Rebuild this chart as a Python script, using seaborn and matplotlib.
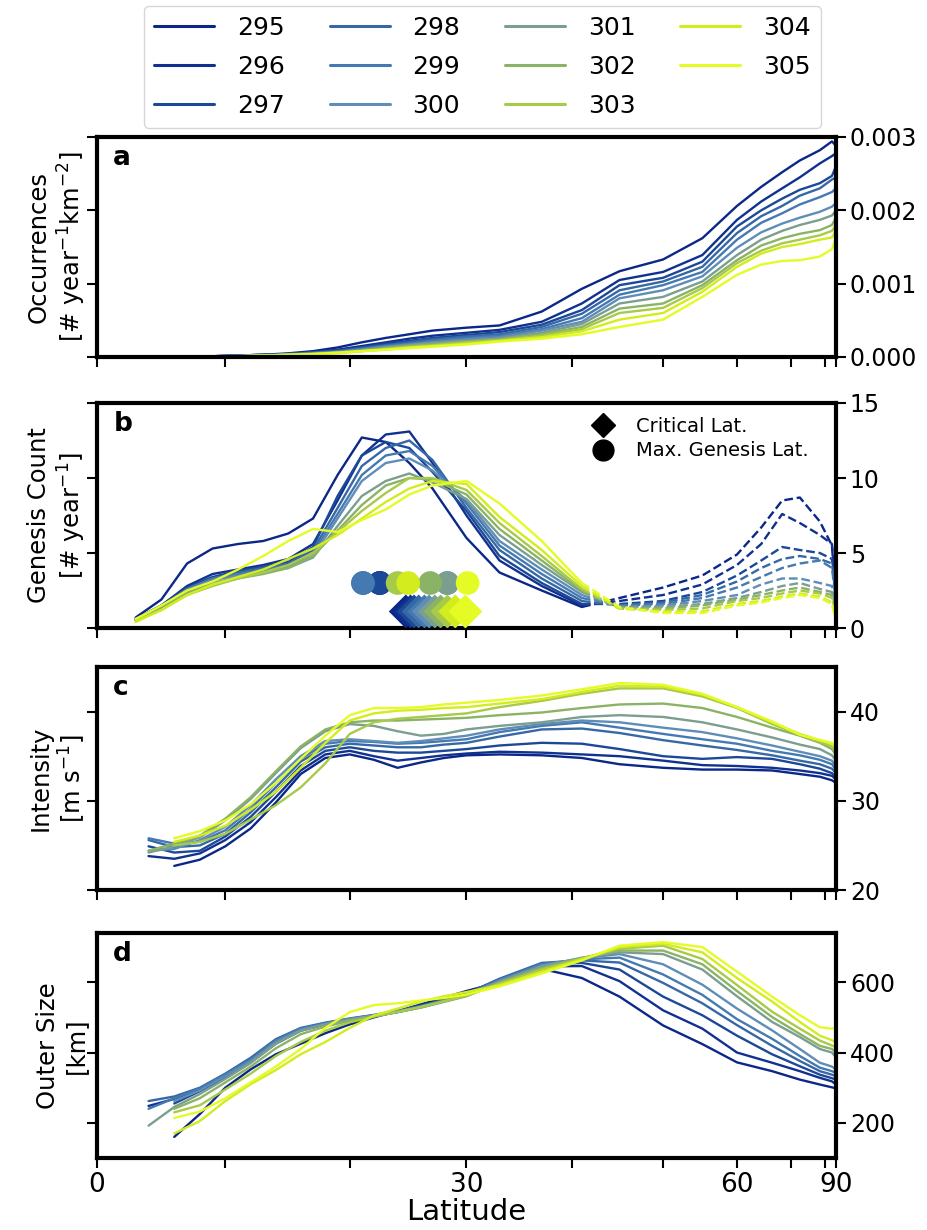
import numpy as np
import pandas as pd
import matplotlib
matplotlib.use("Agg")
import matplotlib.pyplot as plt
from matplotlib.lines import Line2D
from matplotlib.ticker import FormatStrFormatter
import seaborn as sns

sns.set_style("ticks")
plt.rcParams["font.family"] = ["DejaVu Sans"]
plt.rcParams.update({"axes.edgecolor": "black", "xtick.color": "black",
                     "ytick.color": "black", "text.color": "black",
                     "axes.labelcolor": "black"})

# ---------------- data ----------------
SST = [295, 296, 297, 298, 299, 300, 301, 302, 303, 304, 305]
COLORS = ["#0b2787", "#10318f", "#1c4898", "#3668a6", "#4579b1", "#5e8db8",
          "#7b9e8f", "#8bb366", "#a7ca49", "#d3ec1d", "#e4fb26"]

LAT_AB = [3, 5, 7, 9, 11, 13, 15, 17, 19, 21, 23, 25, 27, 30, 33, 37, 41, 45,
          50, 55, 60, 64, 68, 72, 78, 84, 90]
LAT_CD = [4, 6, 8, 10, 12, 14, 16, 18, 20, 22, 24, 26, 28, 30, 33, 37, 41, 45,
          50, 55, 60, 66, 72, 78, 84, 90]
nan = np.nan

# (a) occurrences, units of 1e-3 # year^-1 km^-2
OCC_E3 = [
    [0.00, 0.00, 0.01, 0.01, 0.02, 0.03, 0.05, 0.08, 0.13, 0.20, 0.26, 0.31, 0.36, 0.40, 0.43, 0.62, 0.93, 1.17, 1.33, 1.62, 2.06, 2.32, 2.52, 2.68, 2.82, 2.94, 2.88],
    [0.00, 0.00, 0.01, 0.01, 0.02, 0.03, 0.04, 0.07, 0.10, 0.15, 0.20, 0.25, 0.29, 0.33, 0.37, 0.48, 0.73, 1.05, 1.16, 1.39, 1.87, 2.12, 2.30, 2.45, 2.64, 2.74, 2.78],
    [0.00, 0.00, 0.01, 0.01, 0.02, 0.03, 0.04, 0.06, 0.09, 0.13, 0.18, 0.22, 0.26, 0.30, 0.34, 0.44, 0.64, 0.98, 1.08, 1.30, 1.78, 2.00, 2.16, 2.28, 2.37, 2.47, 2.60],
    [0.00, 0.00, 0.01, 0.01, 0.02, 0.03, 0.04, 0.06, 0.08, 0.12, 0.16, 0.20, 0.24, 0.28, 0.31, 0.41, 0.59, 0.91, 1.03, 1.23, 1.69, 1.92, 2.06, 2.20, 2.30, 2.42, 2.45],
    [0.00, 0.00, 0.01, 0.01, 0.02, 0.02, 0.03, 0.05, 0.07, 0.11, 0.15, 0.18, 0.22, 0.26, 0.29, 0.38, 0.53, 0.85, 0.98, 1.16, 1.60, 1.83, 1.96, 2.08, 2.18, 2.25, 2.30],
    [0.00, 0.00, 0.01, 0.01, 0.01, 0.02, 0.03, 0.05, 0.07, 0.10, 0.14, 0.17, 0.20, 0.24, 0.27, 0.36, 0.48, 0.80, 0.91, 1.10, 1.49, 1.70, 1.82, 1.90, 1.98, 2.05, 2.10],
    [0.00, 0.00, 0.00, 0.01, 0.01, 0.02, 0.03, 0.05, 0.06, 0.09, 0.13, 0.16, 0.19, 0.22, 0.25, 0.33, 0.45, 0.73, 0.82, 1.03, 1.39, 1.60, 1.72, 1.80, 1.87, 1.93, 2.00],
    [0.00, 0.00, 0.00, 0.01, 0.01, 0.02, 0.03, 0.04, 0.06, 0.09, 0.12, 0.15, 0.17, 0.21, 0.24, 0.31, 0.41, 0.66, 0.73, 0.98, 1.32, 1.52, 1.62, 1.68, 1.73, 1.80, 1.90],
    [0.00, 0.00, 0.00, 0.01, 0.01, 0.02, 0.03, 0.04, 0.06, 0.08, 0.11, 0.14, 0.16, 0.20, 0.23, 0.29, 0.38, 0.60, 0.67, 0.94, 1.28, 1.45, 1.55, 1.60, 1.66, 1.72, 1.80],
    [0.00, 0.00, 0.00, 0.01, 0.01, 0.02, 0.03, 0.04, 0.05, 0.08, 0.10, 0.13, 0.15, 0.18, 0.22, 0.27, 0.35, 0.51, 0.60, 0.89, 1.23, 1.41, 1.50, 1.54, 1.60, 1.63, 1.72],
    [0.00, 0.00, 0.00, 0.01, 0.01, 0.02, 0.03, 0.04, 0.06, 0.08, 0.10, 0.12, 0.14, 0.17, 0.21, 0.25, 0.31, 0.41, 0.51, 0.82, 1.12, 1.26, 1.31, 1.32, 1.37, 1.47, 1.62],
]

# (b) genesis count, # year^-1 (solid up to 41 deg, dashed beyond)
GEN = [
    [0.7, 1.9, 4.3, 5.3, 5.6, 5.8, 6.3, 7.3, 10.2, 12.7, 12.4, 11.0, 9.3, 6.0, 3.7, 2.5, 1.4, 2.0, 2.7, 3.5, 4.9, 6.7, 8.5, 8.7, 7.1, 5.5, 1.5],
    [0.6, 1.5, 2.8, 3.6, 3.9, 4.2, 4.6, 5.6, 8.5, 11.5, 12.9, 13.1, 11.0, 7.5, 4.5, 2.8, 1.5, 1.8, 2.2, 2.9, 4.2, 5.6, 7.6, 7.0, 6.2, 5.6, 2.0],
    [0.6, 1.5, 2.7, 3.4, 3.8, 4.1, 4.4, 5.4, 8.8, 11.5, 12.4, 12.0, 10.4, 7.8, 4.8, 3.0, 1.6, 1.6, 1.8, 2.4, 3.5, 4.5, 5.4, 5.2, 5.0, 4.6, 2.5],
    [0.6, 1.4, 2.6, 3.3, 3.7, 4.0, 4.3, 5.2, 8.0, 10.8, 12.0, 12.5, 11.2, 8.0, 5.2, 3.3, 1.8, 1.5, 1.7, 2.2, 3.1, 4.0, 4.6, 4.8, 4.6, 4.3, 2.0],
    [0.6, 1.4, 2.6, 3.3, 3.6, 3.9, 4.2, 5.0, 7.6, 10.2, 11.5, 11.8, 10.8, 8.3, 5.5, 3.6, 2.0, 1.5, 1.6, 2.0, 2.7, 3.4, 4.0, 4.3, 4.5, 4.0, 1.8],
    [0.6, 1.4, 2.5, 3.2, 3.5, 3.8, 4.1, 4.8, 7.3, 9.8, 11.0, 11.3, 10.5, 8.5, 5.8, 3.9, 2.2, 1.4, 1.5, 1.8, 2.2, 2.9, 3.3, 3.3, 3.0, 2.8, 1.5],
    [0.5, 1.3, 2.4, 3.0, 3.4, 3.7, 4.0, 4.7, 6.8, 8.8, 9.8, 10.3, 9.7, 8.6, 6.2, 4.2, 2.4, 1.4, 1.4, 1.6, 2.0, 2.4, 2.8, 3.0, 2.6, 2.4, 1.2],
    [0.5, 1.3, 2.3, 2.9, 3.3, 3.6, 4.0, 4.8, 6.5, 8.2, 9.5, 10.0, 9.9, 8.9, 6.6, 4.5, 2.5, 1.3, 1.3, 1.5, 1.9, 2.2, 2.5, 2.7, 2.4, 2.2, 1.0],
    [0.5, 1.2, 2.2, 2.8, 3.3, 3.7, 4.2, 5.0, 6.4, 7.8, 9.0, 10.0, 10.0, 9.2, 7.0, 4.8, 2.6, 1.3, 1.2, 1.3, 1.8, 2.0, 2.3, 2.5, 2.3, 2.0, 1.0],
    [0.4, 1.2, 2.2, 2.9, 3.4, 3.9, 4.6, 5.3, 6.2, 7.3, 8.4, 9.3, 9.8, 9.6, 7.4, 5.2, 2.8, 1.3, 1.1, 1.1, 1.6, 1.8, 2.1, 2.3, 2.1, 1.7, 0.7],
    [0.6, 1.5, 2.5, 3.1, 3.9, 4.8, 5.8, 6.6, 6.4, 7.2, 7.9, 8.9, 9.5, 9.8, 8.3, 5.8, 3.0, 1.4, 1.0, 1.0, 1.5, 1.7, 2.0, 2.2, 2.0, 1.6, 0.5],
]
SPLIT_LAT = 41
MAX_GEN_LAT = [22.5, 22.5, 22.5, 21.1, 21.1, 28.3, 28.3, 26.8, 24.0, 24.9, 30.1]
CRIT_LAT = [24.7, 25.1, 25.4, 25.8, 26.3, 26.7, 27.2, 27.7, 28.3, 29.0, 29.9]
MAX_GEN_Y = 3.0
CRIT_Y = 1.1

# (c) intensity, m s^-1
INT = [
    [nan, 22.7, 23.4, 24.9, 26.9, 29.8, 33.0, 34.8, 35.2, 34.6, 33.7, 34.3, 34.8, 35.1, 35.2, 35.1, 34.8, 34.1, 33.7, 33.5, 33.5, 33.4, 33.0, 32.7, 32.3, 32.0],
    [23.8, 23.5, 24.1, 25.6, 27.6, 30.4, 33.4, 35.2, 35.6, 35.0, 34.5, 34.8, 35.1, 35.3, 35.5, 35.4, 35.2, 35.0, 34.5, 34.0, 33.9, 33.7, 33.4, 33.1, 32.8, 32.4],
    [24.9, 24.2, 24.4, 26.0, 28.2, 31.0, 33.9, 35.6, 36.0, 35.6, 35.4, 35.4, 35.6, 35.8, 36.2, 36.5, 36.4, 35.8, 35.0, 34.7, 34.9, 34.7, 34.1, 33.6, 33.1, 32.7],
    [25.6, 24.8, 25.0, 26.3, 28.7, 31.5, 34.4, 36.0, 36.4, 36.2, 36.0, 36.0, 36.3, 36.5, 37.2, 38.0, 38.1, 37.6, 36.8, 36.2, 35.7, 35.1, 34.5, 34.1, 33.6, 33.1],
    [25.8, 25.2, 25.4, 26.7, 29.1, 32.0, 34.7, 36.4, 36.7, 36.6, 36.4, 36.5, 36.7, 36.9, 37.7, 38.4, 38.8, 38.2, 37.5, 36.9, 36.4, 35.6, 35.1, 34.6, 34.1, 33.5],
    [24.4, 24.6, 25.6, 27.1, 29.5, 32.4, 35.0, 36.7, 36.9, 36.7, 36.5, 36.7, 37.0, 37.3, 38.0, 38.6, 39.0, 38.8, 38.2, 37.7, 37.0, 36.2, 35.5, 35.0, 34.5, 33.9],
    [24.2, 24.9, 25.9, 27.8, 30.2, 33.1, 35.9, 37.8, 38.6, 38.4, 37.8, 37.3, 37.5, 38.0, 38.4, 38.8, 39.4, 39.6, 39.4, 38.8, 38.0, 37.1, 36.3, 35.8, 35.1, 34.5],
    [24.4, 25.2, 26.1, 28.0, 30.4, 33.3, 36.1, 38.0, 38.8, 39.0, 39.0, 39.1, 39.2, 39.3, 39.6, 39.9, 40.4, 40.8, 40.9, 40.4, 39.4, 38.2, 37.3, 36.5, 35.8, 35.1],
    [nan, 25.0, 25.4, 26.3, 27.9, 29.5, 31.5, 34.2, 37.5, 38.8, 39.2, 39.4, 39.6, 39.8, 40.5, 41.2, 42.0, 42.6, 42.6, 41.7, 40.4, 38.6, 37.4, 36.6, 36.1, 35.6],
    [nan, 25.4, 26.1, 27.2, 29.0, 31.0, 33.7, 36.5, 39.0, 39.8, 40.1, 40.2, 40.4, 40.5, 40.9, 41.4, 42.2, 42.9, 42.8, 41.9, 40.5, 38.8, 37.5, 36.8, 36.4, 36.0],
    [nan, 25.8, 26.6, 27.8, 29.6, 32.0, 34.7, 37.3, 39.6, 40.4, 40.4, 40.5, 40.8, 41.0, 41.3, 41.8, 42.5, 43.2, 43.0, 42.0, 40.5, 38.9, 37.4, 36.8, 36.5, 36.2],
]

# (d) outer size, km
SIZE = [
    [nan, 160, 225, 300, 352, 395, 425, 455, 480, 500, 518, 537, 556, 575, 600, 638, 612, 559, 477, 424, 372, 347, 323, 309, 301, 298],
    [248, 268, 295, 335, 378, 432, 465, 480, 493, 503, 515, 530, 548, 566, 605, 645, 646, 603, 520, 468, 400, 371, 347, 328, 318, 309],
    [nan, 255, 290, 330, 372, 425, 462, 480, 494, 505, 517, 532, 550, 568, 608, 650, 655, 636, 559, 506, 448, 395, 361, 337, 327, 323],
    [262, 275, 300, 340, 385, 438, 470, 485, 497, 507, 518, 533, 550, 567, 610, 655, 662, 656, 598, 540, 478, 419, 376, 347, 337, 333],
    [240, 270, 298, 338, 380, 435, 468, 484, 496, 506, 517, 532, 548, 565, 607, 652, 665, 670, 622, 564, 495, 439, 390, 357, 347, 342],
    [nan, 262, 292, 333, 376, 430, 465, 482, 495, 505, 516, 530, 547, 563, 604, 648, 668, 680, 651, 593, 525, 463, 410, 371, 360, 352],
    [192, 245, 282, 325, 370, 425, 462, 480, 494, 505, 515, 528, 545, 562, 602, 645, 670, 685, 680, 636, 560, 487, 444, 410, 400, 386],
    [nan, 240, 270, 315, 360, 412, 452, 474, 490, 503, 515, 528, 544, 560, 598, 640, 668, 690, 690, 651, 575, 501, 453, 419, 410, 400],
    [nan, 230, 250, 295, 340, 390, 430, 462, 486, 502, 516, 530, 546, 562, 596, 636, 668, 695, 704, 666, 592, 516, 468, 434, 420, 415],
    [nan, 170, 205, 262, 310, 350, 395, 430, 470, 505, 525, 545, 560, 572, 592, 630, 665, 700, 709, 685, 612, 545, 487, 448, 435, 429],
    [nan, 214, 232, 270, 315, 360, 410, 470, 515, 535, 540, 548, 555, 565, 588, 625, 662, 704, 714, 700, 630, 559, 506, 472, 468, 472],
]

PALETTE = dict(zip(SST, COLORS))


def long_df(lats, table, scale=1.0):
    rows = []
    for t, vals in zip(SST, table):
        for la, v in zip(lats, vals):
            rows.append((la, v * scale, t))
    return pd.DataFrame(rows, columns=["lat", "val", "sst"]).dropna()


def fwd(x):
    return np.sin(np.deg2rad(np.clip(x, -90, 90)))


def inv(y):
    return np.rad2deg(np.arcsin(np.clip(y, -1, 1)))


# ---------------- figure ----------------
W, H = 927, 1230
fig = plt.figure(figsize=(W / 100, H / 100), dpi=100)
left, width = 97 / W, 739 / W
boxes = [(137, 357), (403, 628), (667, 890), (933, 1158)]
axes = [fig.add_axes([left, 1 - b / H, width, (b - t) / H]) for t, b in boxes]
ax_a, ax_b, ax_c, ax_d = axes

LW = 1.7

def draw(ax, df, **kw):
    sns.lineplot(data=df, x="lat", y="val", hue="sst", palette=PALETTE,
                 hue_order=SST, estimator=None, sort=False, lw=LW,
                 legend=False, ax=ax, **kw)

# (a)
draw(ax_a, long_df(LAT_AB, OCC_E3, 1e-3))
# (b)
dfb = long_df(LAT_AB, GEN)
draw(ax_b, dfb[dfb.lat <= SPLIT_LAT])
draw(ax_b, dfb[dfb.lat >= SPLIT_LAT], linestyle="--")
sns.scatterplot(x=MAX_GEN_LAT, y=[MAX_GEN_Y] * len(SST), hue=SST,
                palette=PALETTE, hue_order=SST, s=290, marker="o",
                linewidth=0, legend=False, ax=ax_b, zorder=4)
sns.scatterplot(x=CRIT_LAT, y=[CRIT_Y] * len(SST), hue=SST,
                palette=PALETTE, hue_order=SST, s=300, marker="D",
                linewidth=0, legend=False, ax=ax_b, zorder=4)
mk = [Line2D([], [], marker="D", color="k", ls="", ms=12),
      Line2D([], [], marker="o", color="k", ls="", ms=15)]
ax_b.legend(mk, ["Critical Lat.", "Max. Genesis Lat."], loc="upper left",
            bbox_to_anchor=(0.64, 1.0), frameon=False, fontsize=14,
            handletextpad=0.7, labelspacing=0.3, borderaxespad=0.3)
# (c)
draw(ax_c, long_df(LAT_CD, INT))
# (d)
draw(ax_d, long_df(LAT_CD, SIZE))

ylims = [(0, 0.003), (0, 15), (20, 45), (100, 740)]
yticks = [[0, 0.001, 0.002, 0.003], [0, 5, 10, 15], [20, 30, 40], [200, 400, 600]]
ylabels = ["Occurrences\n[# year$^{-1}$km$^{-2}$]", "Genesis Count\n[# year$^{-1}$]",
           "Intensity\n[m s$^{-1}$]", "Outer Size\n[km]"]
letters = ["a", "b", "c", "d"]

for i, ax in enumerate(axes):
    ax.set_xscale("function", functions=(fwd, inv))
    ax.set_xlim(0, 90)
    ax.set_xticks([0, 30, 60, 90])
    ax.set_xticks([10, 20, 40, 50, 70, 80], minor=True)
    ax.set_ylim(*ylims[i])
    ax.set_yticks(yticks[i])
    ax.yaxis.tick_right()
    ax.tick_params(axis="y", which="both", left=True, right=True,
                   labelleft=False, labelright=True, direction="out",
                   length=7, width=1.5, labelsize=17, pad=3)
    ax.tick_params(axis="x", which="both", bottom=True, top=False,
                   direction="out", length=7, width=1.5, labelsize=19,
                   labelbottom=(i == 3), pad=3)
    ax.yaxis.set_label_position("left")
    ax.set_ylabel(ylabels[i], fontsize=17.5, linespacing=1.2)
    ax.yaxis.set_label_coords(-0.012, 0.5)
    ax.set_xlabel("")
    for s in ax.spines.values():
        s.set_linewidth(3)
        s.set_visible(True)
        s.set_edgecolor("black")
    ax.text(0.022, 0.965, letters[i], transform=ax.transAxes, fontsize=19,
            fontweight="bold", ha="left", va="top")

ax_a.yaxis.set_major_formatter(FormatStrFormatter("%.3f"))
ax_d.set_xlabel("Latitude", fontsize=21, labelpad=0)

handles = [Line2D([0], [0], color=c, lw=2.2) for c in COLORS]
fig.legend(handles, [str(t) for t in SST], ncol=4, loc="lower center",
           bbox_to_anchor=(0.5205, 1 - 128 / H), fontsize=18, frameon=True,
           edgecolor="#cccccc", fancybox=True, handlelength=2.4,
           handletextpad=0.9, columnspacing=1.8, labelspacing=0.6,
           borderpad=0.4, borderaxespad=0)

fig.savefig("out.png", dpi=100)
